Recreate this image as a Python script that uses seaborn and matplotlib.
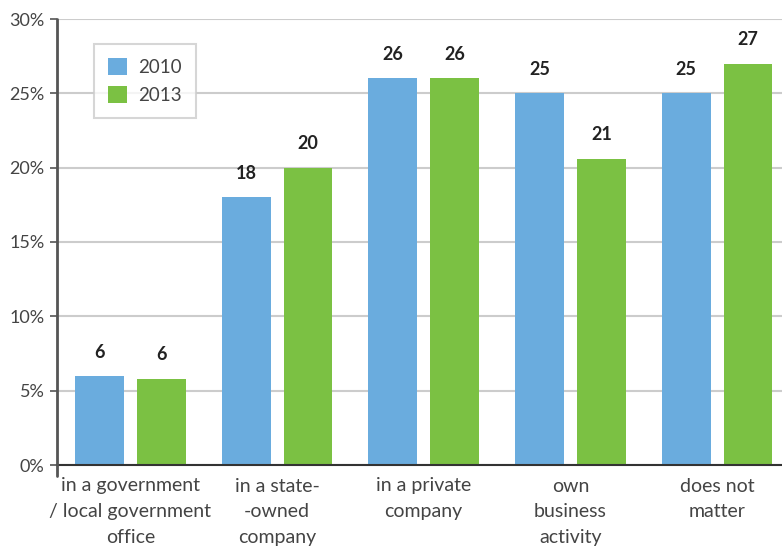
import matplotlib
matplotlib.use("Agg")
import matplotlib.pyplot as plt
import seaborn as sns
import pandas as pd

categories = [
    "in a government\n/ local government\noffice",
    "in a state-\n-owned\ncompany",
    "in a private\ncompany",
    "own\nbusiness\nactivity",
    "does not\nmatter",
]
years = ["2010", "2013"]
values_2010 = [6, 18, 26, 25, 25]
values_2013 = [5.8, 20, 26, 20.6, 27]
y_ticks = [0, 5, 10, 15, 20, 25, 30]

df = pd.DataFrame({
    "category": categories * 2,
    "year": [years[0]] * len(categories) + [years[1]] * len(categories),
    "share": values_2010 + values_2013,
})

sns.set_theme(style="white")
plt.rcParams["font.family"] = ["Lato", "DejaVu Sans"]

fig = plt.figure(figsize=(7.82, 5.49), dpi=100)
ax = fig.add_axes([57 / 782, 84 / 549, 1 - 57 / 782, 446 / 549])

palette = {"2010": "#6AACDE", "2013": "#7BC143"}
sns.barplot(data=df, x="category", y="share", hue="year", palette=palette,
            width=0.845, gap=0.21, saturation=1, linewidth=0, edgecolor="none",
            ax=ax, zorder=3)

for cont in ax.containers:
    ax.bar_label(cont, labels=[f"{v:.0f}" for v in cont.datavalues],
                 padding=11, fontsize=13, fontweight="bold", color="#222222")

ax.set_ylim(0, 30)
ax.set_xlim(-0.5, 4.443)
ax.set_yticks(y_ticks)
ax.set_yticklabels([f"{t}%" for t in y_ticks], fontsize=13, color="#444444")
ax.tick_params(axis="y", which="major", left=True, length=5, width=1.2,
               color="#555555", pad=4)
ax.tick_params(axis="x", length=0, pad=9)
for lbl in ax.get_xticklabels():
    lbl.set_fontsize(14)
    lbl.set_color("#444444")
    lbl.set_linespacing(1.62)
    lbl.set_verticalalignment("top")

ax.set_xlabel("")
ax.set_ylabel("")

ax.grid(axis="y", color="#CCCCCC", linewidth=1.5, zorder=0)
ax.set_axisbelow(True)

for side in ["top", "right", "left"]:
    ax.spines[side].set_visible(False)
ax.spines["bottom"].set_color("#333333")
ax.spines["bottom"].set_linewidth(1.5)
ax.spines["bottom"].set_zorder(4)
# vertical axis line reaching slightly below zero
ax.plot([0, 0], [-0.025, 1], transform=ax.transAxes, color="#555555",
        linewidth=2, clip_on=False, zorder=5)

leg = ax.legend(loc="upper left", bbox_to_anchor=(0.051, 0.944), frameon=True,
                fancybox=False, fontsize=13.5, handlelength=1.0, handleheight=1.0,
                handletextpad=0.6, borderpad=0.75, labelspacing=0.55,
                borderaxespad=0)
leg.get_frame().set_edgecolor("#CCCCCC")
leg.get_frame().set_linewidth(1.5)
for t in leg.get_texts():
    t.set_color("#444444")

fig.savefig("out.png", dpi=100)
